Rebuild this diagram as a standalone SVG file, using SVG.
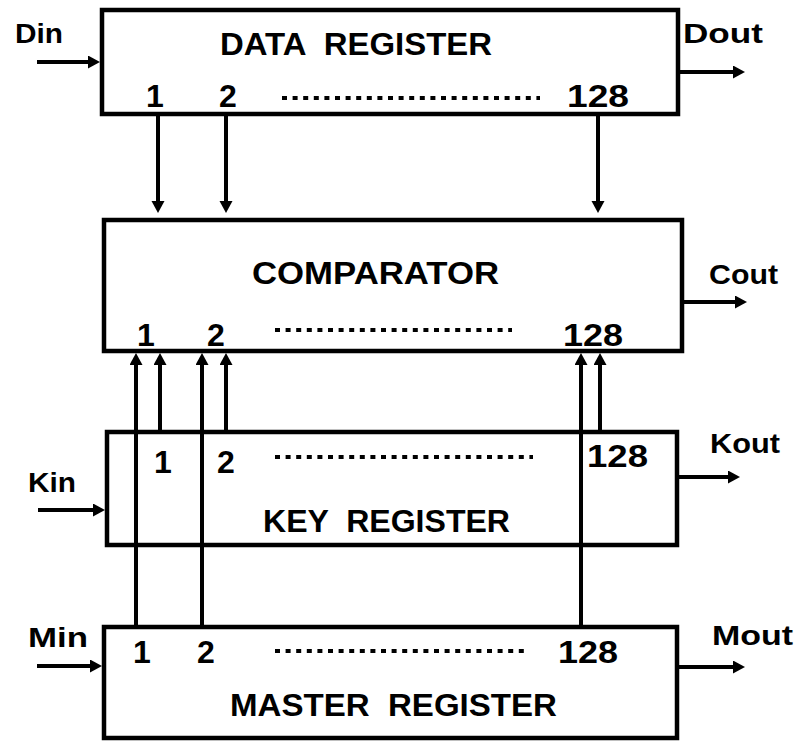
<svg xmlns="http://www.w3.org/2000/svg" width="799" height="741" viewBox="0 0 799 741">
<style>
.box{fill:#fff;stroke:#000;stroke-width:4.5}
.t{font-family:"Liberation Sans",Arial,sans-serif;font-weight:bold;fill:#000}
.title{font-size:31px}
.io{font-size:27px}
.num{font-size:32px}
.dots{stroke:#000;stroke-width:4;stroke-dasharray:5 5.6;fill:none}
.wire{stroke:#000;stroke-width:4;fill:none;marker-end:url(#ah)}
</style>
<defs>
<marker id="ah" markerUnits="userSpaceOnUse" markerWidth="14" markerHeight="14" refX="2" refY="6.5" orient="auto" viewBox="0 0 14 14">
<path d="M0,0 L12,6.5 L0,13 z" fill="#000"/>
</marker>
</defs>
<rect width="799" height="741" fill="#fff"/>
<g id="data-register">
<rect class="box" x="102" y="10" width="576" height="104"/>
<text class="t title" x="220" y="55" textLength="272" lengthAdjust="spacingAndGlyphs" xml:space="preserve">DATA  REGISTER</text>
<text class="t num" x="155" y="107" text-anchor="middle">1</text>
<text class="t num" x="228" y="107" text-anchor="middle">2</text>
<line class="dots" x1="282" y1="98" x2="540" y2="98"/>
<text class="t num" x="567" y="107" textLength="62" lengthAdjust="spacingAndGlyphs">128</text>
</g>
<g id="comparator">
<rect class="box" x="104" y="220" width="578" height="131"/>
<text class="t title" x="252" y="284" textLength="247" lengthAdjust="spacingAndGlyphs">COMPARATOR</text>
<text class="t num" x="146" y="346" text-anchor="middle">1</text>
<text class="t num" x="216" y="346" text-anchor="middle">2</text>
<line class="dots" x1="275" y1="330" x2="512" y2="330"/>
<text class="t num" x="563" y="346" textLength="60" lengthAdjust="spacingAndGlyphs">128</text>
</g>
<g id="key-register">
<rect class="box" x="107" y="432" width="570" height="113"/>
<text class="t title" x="263" y="532" textLength="247" lengthAdjust="spacingAndGlyphs" xml:space="preserve">KEY  REGISTER</text>
<text class="t num" x="163" y="473" text-anchor="middle">1</text>
<text class="t num" x="226" y="473" text-anchor="middle">2</text>
<line class="dots" x1="275" y1="457" x2="533" y2="457"/>
<text class="t num" x="587" y="467" textLength="61" lengthAdjust="spacingAndGlyphs">128</text>
</g>
<g id="master-register">
<rect class="box" x="104" y="627" width="573" height="111"/>
<text class="t title" x="230" y="716" textLength="327" lengthAdjust="spacingAndGlyphs" xml:space="preserve">MASTER  REGISTER</text>
<text class="t num" x="142" y="663" text-anchor="middle">1</text>
<text class="t num" x="206" y="663" text-anchor="middle">2</text>
<line class="dots" x1="275" y1="651" x2="528" y2="651"/>
<text class="t num" x="558" y="663" textLength="60" lengthAdjust="spacingAndGlyphs">128</text>
</g>
<g id="io-labels">
<text class="t io" x="15" y="43" textLength="48" lengthAdjust="spacingAndGlyphs">Din</text>
<text class="t io" x="683" y="43" textLength="80" lengthAdjust="spacingAndGlyphs">Dout</text>
<text class="t io" x="709" y="284" textLength="69" lengthAdjust="spacingAndGlyphs">Cout</text>
<text class="t io" x="28" y="492" textLength="48" lengthAdjust="spacingAndGlyphs">Kin</text>
<text class="t io" x="710" y="453" textLength="70" lengthAdjust="spacingAndGlyphs">Kout</text>
<text class="t io" x="28" y="647" textLength="60" lengthAdjust="spacingAndGlyphs">Min</text>
<text class="t io" x="712" y="645" textLength="81" lengthAdjust="spacingAndGlyphs">Mout</text>
</g>
<g id="connectors">
<line class="wire" x1="37" y1="62" x2="90" y2="62"/>
<line class="wire" x1="680" y1="72" x2="735" y2="72"/>
<line class="wire" x1="684" y1="302" x2="737" y2="302"/>
<line class="wire" x1="38" y1="510" x2="95" y2="510"/>
<line class="wire" x1="679" y1="477" x2="730" y2="477"/>
<line class="wire" x1="37" y1="666" x2="92" y2="666"/>
<line class="wire" x1="679" y1="667" x2="735" y2="667"/>
<line class="wire" x1="158" y1="116" x2="158" y2="203"/>
<line class="wire" x1="226" y1="116" x2="226" y2="203"/>
<line class="wire" x1="598" y1="116" x2="598" y2="203"/>
<line class="wire" x1="136" y1="627" x2="136" y2="363"/>
<line class="wire" x1="160" y1="432" x2="160" y2="363"/>
<line class="wire" x1="202" y1="627" x2="202" y2="363"/>
<line class="wire" x1="226" y1="432" x2="226" y2="363"/>
<line class="wire" x1="581" y1="627" x2="581" y2="363"/>
<line class="wire" x1="600" y1="432" x2="600" y2="363"/>
</g>
</svg>
